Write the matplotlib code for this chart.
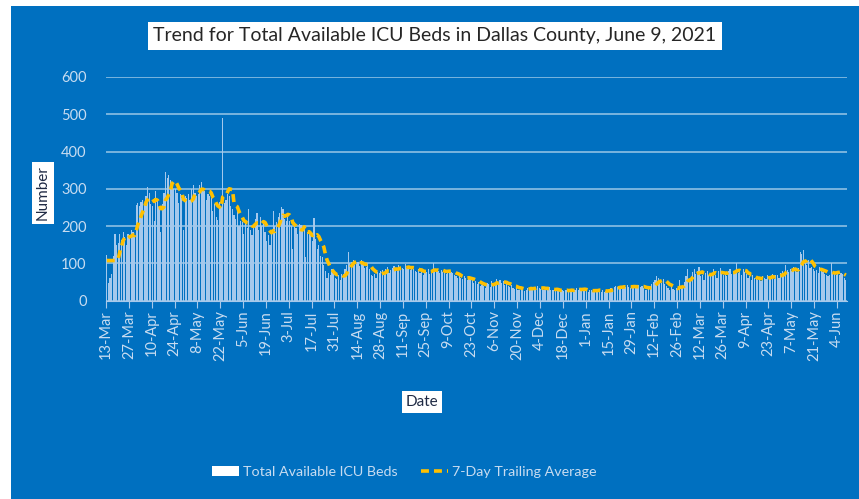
import matplotlib
matplotlib.use("Agg")
import matplotlib.pyplot as plt
from matplotlib.patches import Rectangle, Patch
from matplotlib.lines import Line2D
import numpy as np
import pandas as pd

plt.rcParams['font.family'] = ['Lato', 'DejaVu Sans']

# daily available ICU beds, 13-Mar-2020 .. 9-Jun-2021 (one row = one week)
beds = [
    122, 48, 62, 72, 120, 180, 150,      # 13-Mar
    155, 178, 162, 185, 170, 150, 180,   # 20-Mar
    175, 190, 185, 172, 258, 262, 255,   # 27-Mar
    265, 270, 258, 280, 305, 290, 260,   # 3-Apr
    255, 215, 295, 268, 250, 185, 260,   # 10-Apr
    290, 345, 330, 338, 325, 310, 300,   # 17-Apr
    300, 290, 262, 285, 275, 190, 280,   # 24-Apr
    275, 285, 270, 300, 310, 290, 280,   # 1-May
    285, 310, 318, 300, 295, 270, 285,   # 8-May
    280, 275, 240, 260, 225, 216, 265,   # 15-May
    250, 490, 262, 270, 285, 280, 255,   # 22-May
    245, 230, 220, 250, 200, 215, 210,   # 29-May
    180, 210, 195, 245, 190, 175, 200,   # 5-Jun
    220, 235, 190, 225, 200, 215, 185,   # 12-Jun
    160, 175, 150, 190, 240, 200, 210,   # 19-Jun
    225, 235, 250, 245, 220, 215, 230,   # 26-Jun
    215, 200, 140, 210, 195, 180, 205,   # 3-Jul
    203, 195, 200, 118, 185, 190, 175,   # 10-Jul
    160, 222, 165, 140, 150, 120, 118,   # 17-Jul
    95, 80, 60, 75, 70, 85, 78,          # 24-Jul
    62, 58, 70, 55, 72, 68, 85,          # 31-Jul
    95, 130, 100, 105, 110, 95, 98,      # 7-Aug
    105, 92, 110, 98, 88, 90, 102,       # 14-Aug
    85, 70, 65, 72, 60, 78, 75,          # 21-Aug
    80, 82, 68, 85, 90, 75, 82,          # 28-Aug
    88, 92, 85, 80, 95, 90, 87,          # 4-Sep
    85, 98, 88, 90, 82, 92, 86,          # 11-Sep
    80, 78, 85, 75, 82, 70, 80,          # 18-Sep
    78, 85, 72, 80, 100, 82, 76,         # 25-Sep
    80, 75, 82, 78, 85, 72, 80,          # 2-Oct
    82, 78, 75, 70, 65, 60, 68,          # 9-Oct
    62, 58, 65, 60, 55, 63, 60,          # 16-Oct
    55, 48, 52, 45, 50, 40, 42,          # 23-Oct
    40, 35, 48, 44, 38, 52, 45,          # 30-Oct
    50, 58, 45, 55, 48, 52, 42,          # 6-Nov
    45, 40, 38, 42, 35, 32, 38,          # 13-Nov
    30, 28, 35, 32, 26, 30, 34,          # 20-Nov
    35, 38, 30, 36, 32, 40, 34,          # 27-Nov
    32, 35, 30, 28, 33, 36, 30,          # 4-Dec
    28, 30, 25, 32, 27, 24, 30,          # 11-Dec
    26, 28, 30, 24, 32, 28, 25,          # 18-Dec
    30, 34, 28, 35, 30, 32, 27,          # 25-Dec
    25, 22, 28, 30, 24, 32, 28,          # 1-Jan
    26, 30, 24, 28, 22, 25, 27,          # 8-Jan
    30, 35, 32, 38, 40, 36, 34,          # 15-Jan
    38, 35, 40, 36, 42, 38, 34,          # 22-Jan
    36, 40, 38, 35, 42, 38, 40,          # 29-Jan
    35, 30, 28, 32, 38, 45, 50,          # 5-Feb
    55, 65, 60, 50, 48, 58, 45,          # 12-Feb
    40, 35, 30, 38, 32, 28, 35,          # 19-Feb
    30, 55, 38, 40, 50, 65, 85,          # 26-Feb
    55, 60, 78, 85, 72, 80, 90,          # 5-Mar
    65, 70, 55, 75, 80, 68, 72,          # 12-Mar
    75, 85, 70, 60, 80, 88, 72,          # 19-Mar
    70, 78, 65, 80, 85, 72, 75,          # 26-Mar
    80, 100, 75, 82, 70, 85, 78,         # 2-Apr
    72, 60, 65, 55, 70, 62, 58,          # 9-Apr
    55, 60, 52, 65, 62, 58, 70,          # 16-Apr
    65, 60, 72, 58, 68, 70, 62,          # 23-Apr
    75, 80, 72, 95, 82, 78, 85,          # 30-Apr
    80, 90, 85, 78, 88, 130, 125,        # 7-May
    135, 100, 95, 110, 88, 90, 85,       # 14-May
    80, 82, 75, 90, 85, 78, 72,          # 21-May
    70, 65, 68, 100, 75, 72, 70,         # 28-May
    80, 68, 75, 72, 60, 55,              # 4-Jun
]
dates = pd.date_range("2020-03-13", periods=len(beds), freq="D")
avg7 = pd.Series(beds).rolling(7).mean().bfill()

blue = "#0070C0"
bar_col = "#A4C8EC"
txt_col = "#C8DCF1"

fig = plt.figure(figsize=(8.59, 4.99), dpi=100)
fig.patches.append(Rectangle((11 / 859, 0), 1, 493 / 499, transform=fig.transFigure,
                             facecolor=blue, edgecolor="none", zorder=-10))

ax = fig.add_axes([106 / 859, 198.3 / 499, 740.7 / 859, 223.7 / 499])
ax.set_facecolor(blue)
x = np.arange(len(beds))
ax.bar(x, beds, width=0.72, color=bar_col, zorder=2)
ax.plot(x, avg7, color="#FFC000", lw=2.6, ls=(0, (2.2, 1.4)), zorder=3)

ax.set_xlim(-0.5, len(beds) - 0.5)
ax.set_ylim(0, 600)
ax.set_yticks(range(0, 601, 100))
ax.yaxis.grid(True, color="white", alpha=0.6, lw=1.1, zorder=0)
ax.set_axisbelow(True)
for s in ["top", "right", "left"]:
    ax.spines[s].set_visible(False)
ax.spines["bottom"].set_color("#A8C9EA")
ticks = x[::14]
ax.set_xticks(ticks - 0.5)
ax.set_xticklabels([f"{d.day}-{d.strftime('%b')}" for d in dates[::14]], rotation=90)
ax.tick_params(axis="x", colors="#A8C9EA", labelcolor=txt_col, length=5, labelsize=10.5, pad=2)
ax.tick_params(axis="y", length=0, labelcolor=txt_col, labelsize=10.5, pad=14)

box = dict(boxstyle="square,pad=0.25", facecolor="white", edgecolor="none")
fig.text(435 / 859, 463 / 499, "Trend for Total Available ICU Beds in Dallas County, June 9, 2021",
         ha="center", va="center", fontsize=14, color="#262626",
         bbox=dict(boxstyle="square,pad=0.3", facecolor="white", edgecolor="none"))
fig.text(43 / 859, (499 - 193) / 499, "Number", rotation=90, ha="center", va="center",
         fontsize=11, color="#1F2A44", bbox=box)
fig.text(422 / 859, (499 - 402) / 499, "Date", ha="center", va="center",
         fontsize=11, color="#1F2A44", bbox=box)

handles = [Patch(facecolor="white", edgecolor="none"),
           Line2D([], [], color="#FFC000", lw=2.6, ls=(0, (2.2, 1.4)))]
fig.legend(handles, ["Total Available ICU Beds", "7-Day Trailing Average"],
           loc="center", bbox_to_anchor=(404 / 859, (499 - 472) / 499), ncol=2,
           frameon=False, fontsize=10.3, labelcolor=txt_col, handlelength=1.9,
           handletextpad=0.3, columnspacing=1.6)

fig.savefig("out.png", dpi=100, facecolor="white")
